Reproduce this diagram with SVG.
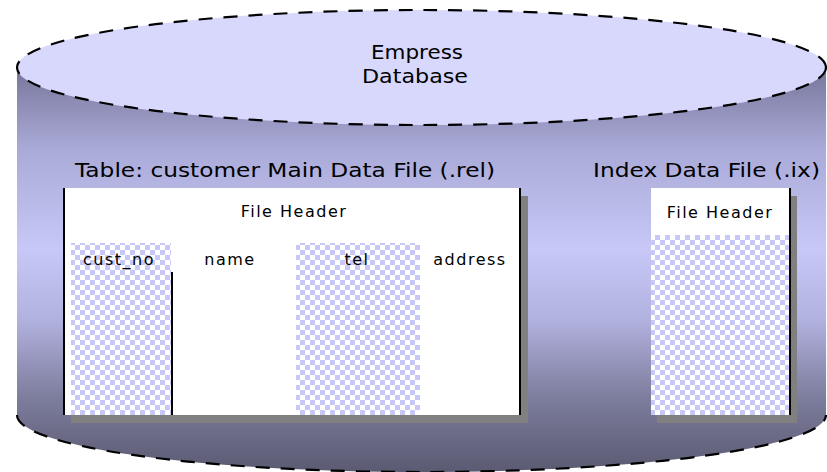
<svg xmlns="http://www.w3.org/2000/svg" width="827" height="472" viewBox="0 0 827 472">
<style>
.t{font-family:"DejaVu Sans","Liberation Sans",sans-serif;fill:#000}
.title{font-size:19px}
.lbl{font-size:16px;letter-spacing:1.5px}
.dash{fill:none;stroke:#000;stroke-width:2.2;stroke-dasharray:14 11}
.shadow{fill:#808080}
.edge{fill:#000}
</style>
<defs>
<linearGradient id="body" gradientUnits="userSpaceOnUse" x1="0" y1="68" x2="0" y2="472">
<stop offset="0" stop-color="#76769a"/>
<stop offset="0.2" stop-color="#aaaad8"/>
<stop offset="0.45" stop-color="#c8c8f8"/>
<stop offset="0.62" stop-color="#b2b2e0"/>
<stop offset="0.82" stop-color="#7c7c9c"/>
<stop offset="1" stop-color="#5a5a72"/>
</linearGradient>
<pattern id="chk" width="10" height="10" patternUnits="userSpaceOnUse">
<rect width="10" height="10" fill="#ffffff"/>
<rect width="5" height="5" fill="#c8c8f8"/>
<rect x="5" y="5" width="5" height="5" fill="#c8c8f8"/>
</pattern>
</defs>
<g id="database">
<path d="M17,68 L17,415 A404.5,57 0 0 0 826,415 L826,68 Z" fill="url(#body)"/>
<path class="dash" d="M17,415 A404.5,57 0 0 0 826,415"/>
<ellipse cx="421.5" cy="67.5" rx="404.5" ry="57.5" fill="#d8d8fc"/>
<ellipse class="dash" cx="421.5" cy="67.5" rx="404.5" ry="57.5"/>
<text class="t" x="417" y="59" text-anchor="middle" font-size="19" textLength="92" lengthAdjust="spacingAndGlyphs">Empress</text>
<text class="t" x="415" y="83" text-anchor="middle" font-size="19" textLength="106" lengthAdjust="spacingAndGlyphs">Database</text>
</g>
<g id="main-data-file">
<text class="t title" x="75" y="177" textLength="420" lengthAdjust="spacingAndGlyphs">Table: customer Main Data File (.rel)</text>
<rect class="shadow" x="71" y="196" width="457" height="227"/>
<rect x="63" y="188" width="458" height="227" fill="#ffffff"/>
<rect x="71" y="243" width="100" height="172" fill="url(#chk)"/>
<rect x="296" y="243" width="124" height="172" fill="url(#chk)"/>
<rect class="edge" x="63" y="188" width="2" height="227"/>
<rect class="edge" x="519" y="188" width="2" height="227"/>
<rect class="edge" x="171" y="272" width="2" height="143"/>
<text class="t lbl" x="294" y="217" text-anchor="middle">File Header</text>
<text class="t lbl" x="119" y="265" text-anchor="middle">cust_no</text>
<text class="t lbl" x="230" y="265" text-anchor="middle">name</text>
<text class="t lbl" x="357" y="265" text-anchor="middle">tel</text>
<text class="t lbl" x="470" y="265" text-anchor="middle">address</text>
</g>
<g id="index-data-file">
<text class="t title" x="593" y="177" textLength="227" lengthAdjust="spacingAndGlyphs">Index Data File (.ix)</text>
<rect class="shadow" x="657" y="196" width="140" height="227"/>
<rect x="651" y="188" width="140" height="227" fill="#ffffff"/>
<rect x="651" y="235" width="138" height="180" fill="url(#chk)"/>
<rect class="edge" x="789" y="188" width="2" height="227"/>
<text class="t lbl" x="720" y="218" text-anchor="middle">File Header</text>
</g>
<g id="connectors"/>
</svg>
